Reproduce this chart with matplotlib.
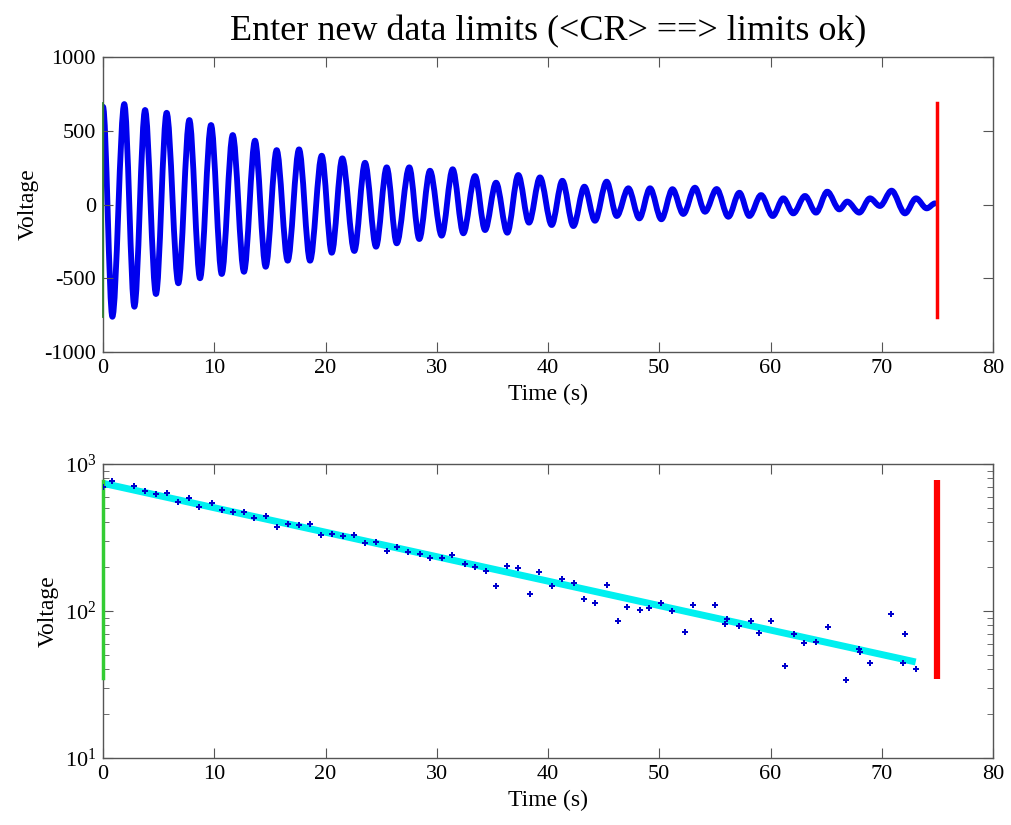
import numpy as np
import matplotlib
matplotlib.use("Agg")
import matplotlib.pyplot as plt
from matplotlib.path import Path
from matplotlib.patches import PathPatch
from matplotlib.ticker import LogLocator, NullFormatter

# extrema of the recorded signal (time s, voltage)
wave_t = [0.00, 0.84, 1.91, 2.82, 3.78, 4.76, 5.72, 6.77, 7.76, 8.72,
          9.71, 10.67, 11.66, 12.67, 13.66, 14.62, 15.61, 16.60, 17.62, 18.61,
          19.66, 20.56, 21.51, 22.59, 23.55, 24.54, 25.50, 26.40, 27.53, 28.43,
          29.39, 30.44, 31.43, 32.39, 33.44, 34.34, 35.33, 36.34, 37.33, 38.29,
          39.28, 40.33, 41.29, 42.28, 43.27, 44.22, 45.27, 46.18, 47.22, 48.21,
          49.17, 50.19, 51.19, 52.16, 53.21, 54.11, 55.16, 56.21, 57.20, 58.10,
          59.15, 60.20, 61.15, 62.05, 63.10, 64.09, 65.10, 66.19, 66.90, 67.98,
          68.94, 69.84, 70.88, 72.09, 73.08, 74.04, 74.80]
wave_v = [663, -761, 681, -693, 641, -607, 622, -534, 573, -500,
          539, -471, 471, -456, 433, -422, 369, -381, 374, -381,
          331, -327, 313, -315, 283, -286, 252, -263, 252, -234,
          229, -211, 239, -195, 193, -173, 148, -191, 200, -123,
          184, -139, 161, -146, 121, -110, 155, -78, 110, -94,
          110, -100, 104, -64, 114, -49, 105, -83, 80, -78,
          64, -78, 42, -60, 58, -55, 87, -33, 20, -55,
          42, -10, 94, -60, 42, -26, 8]

# peak magnitudes shown on the log plot
peak_t = [0.00, 0.84, 2.82, 3.78, 4.79, 5.72, 6.77, 7.76, 8.66, 9.77,
          10.73, 11.65, 12.70, 13.60, 14.62, 15.64, 16.60, 17.62, 18.64, 19.60,
          20.56, 21.57, 22.59, 23.55, 24.51, 25.56, 26.40, 27.45, 28.49, 29.39,
          30.44, 31.40, 32.51, 33.47, 34.40, 35.33, 36.29, 37.33, 38.35, 39.22,
          40.33, 41.29, 42.31, 43.27, 44.22, 45.27, 46.26, 47.10, 48.24, 49.11,
          50.13, 51.17, 52.31, 53.06, 55.04, 55.95, 56.06, 57.20, 58.25, 58.99,
          60.04, 61.33, 62.11, 63.04, 64.09, 65.14, 66.76, 67.93, 68.04, 68.91,
          70.80, 71.94, 72.09, 73.05]
peak_v = [694, 770, 708, 658, 622, 632, 548, 585, 507, 541,
          487, 471, 471, 431, 445, 371, 389, 383, 389, 329,
          334, 324, 329, 289, 293, 256, 271, 251, 243, 230,
          230, 241, 210, 198, 186, 149, 203, 195, 130, 183,
          149, 165, 156, 120, 113, 151, 86, 107, 102, 104,
          113, 100, 72, 110, 110, 82, 88, 79, 86, 71,
          86, 42, 70, 61, 62, 78, 34, 55, 53, 44,
          96, 44, 70, 40]

# exponential fit end points
fit_t = [0.0, 73.05]
fit_v = [739, 45]

# data limit markers
start_t = 0.0
end_t = 75.0
top_limits = [-761, 686]
log_start_limits = [35, 770]
log_end_limits = [34.5, 778]

plt.rcParams["font.family"] = ["Liberation Serif", "DejaVu Serif"]
plt.rcParams["mathtext.fontset"] = "custom"
plt.rcParams["mathtext.rm"] = "Liberation Serif"
plt.rcParams["axes.unicode_minus"] = False
plt.rcParams["font.size"] = 16

fig = plt.figure(figsize=(10.11, 8.25), dpi=100)
ax1 = fig.add_axes([0.1019, 0.5733, 0.8803, 0.3576])
ax2 = fig.add_axes([0.1019, 0.0812, 0.8803, 0.3564])


def style_axes(ax):
    for sp in ax.spines.values():
        sp.set_color("#555555")
        sp.set_linewidth(1.0)
    ax.tick_params(which="both", direction="in", top=True, right=True,
                   color="#555555", labelsize=16, pad=5)
    ax.tick_params(which="major", length=7)
    ax.tick_params(which="minor", length=4)


# top: raw signal drawn as a smooth path through its extrema
verts = [(wave_t[0], wave_v[0])]
codes = [Path.MOVETO]
for i in range(1, len(wave_t)):
    t0, v0 = wave_t[i - 1], wave_v[i - 1]
    t1, v1 = wave_t[i], wave_v[i]
    dt = t1 - t0
    verts += [(t0 + dt / 3, v0), (t1 - dt / 3, v1), (t1, v1)]
    codes += [Path.CURVE4] * 3

ax1.add_patch(PathPatch(Path(verts, codes), fill=False, edgecolor="#0000ee",
                        lw=4.2, joinstyle="round", capstyle="round"))
ax1.plot([start_t, start_t], top_limits, color="#2e7d32", lw=1.3,
         clip_on=False, zorder=3)
ax1.plot([end_t, end_t], top_limits, color="#ff0000", lw=2.5)
ax1.set_xlim(0, 80)
ax1.set_ylim(-1000, 1000)
ax1.set_xticks(np.arange(0, 81, 10))
ax1.set_yticks(np.arange(-1000, 1001, 500))
ax1.set_xlabel("Time (s)", fontsize=17)
ax1.set_ylabel("Voltage", fontsize=17)
ax1.set_title("Enter new data limits (<CR> ==> limits ok)", fontsize=26, pad=12)
style_axes(ax1)

# bottom: peak magnitudes with log fit
ax2.set_yscale("log")
ax2.plot(fit_t, fit_v, color="#00f0f0", lw=5.0, solid_capstyle="butt")
ax2.plot([start_t, start_t], log_start_limits, color="#33cc33", lw=2.5,
         clip_on=False, zorder=3)
ax2.plot(peak_t, peak_v, linestyle="none", marker="P", ms=5,
         color="#0000cc", markeredgewidth=0, zorder=4)
ax2.plot([end_t, end_t], log_end_limits, color="#ff0000", lw=4.5,
         solid_capstyle="butt")
ax2.set_xlim(0, 80)
ax2.set_ylim(10, 1000)
ax2.set_xticks(np.arange(0, 81, 10))
ax2.yaxis.set_major_locator(LogLocator(base=10))
ax2.yaxis.set_minor_locator(LogLocator(base=10, subs=np.arange(2, 10)))
ax2.yaxis.set_minor_formatter(NullFormatter())
ax2.set_xlabel("Time (s)", fontsize=17)
ax2.set_ylabel("Voltage", fontsize=17)
style_axes(ax2)

fig.savefig("out.png", dpi=100)
